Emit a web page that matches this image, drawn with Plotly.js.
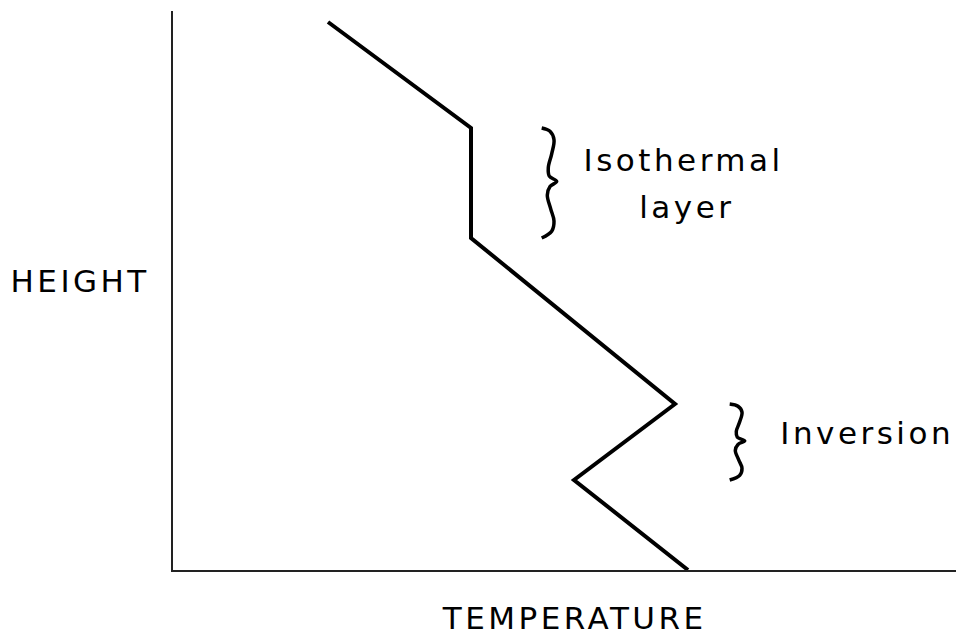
<!DOCTYPE html>
<html>
<head>
<meta charset="utf-8">
<script src="https://cdn.plot.ly/plotly-3.0.1.min.js"></script>
<style>
html,body{margin:0;padding:0;background:#fff;}
#chart{width:956px;height:636px;}
#chart .annotation-text{letter-spacing:3.5px;}
</style>
</head>
<body>
<div id="chart"></div>
<script>
// Temperature profile (arbitrary units)
const temperature = [155, 298, 298, 502, 401, 515];
const height      = [548, 442, 332, 166, 90, 0];

// Layers marked with braces
const layerNames   = ["Isothermal layer", "Inversion"];
const layerTop     = [442, 166];
const layerBottom  = [332, 90];
const braceX       = [375, 563];

// Brace profile: fraction down the brace, sideways offset
const braceT  = [0, 0.03, 0.106, 0.235, 0.36, 0.438, 0.485, 0.532, 0.61, 0.735, 0.845, 0.938, 1];
const braceDx = [-6.3, 2, 6, 3.7, 0.3, 1.3, 8.7, 2, -0.7, 2.7, 6, 3.7, -6.3];

const FONT = "'DejaVu Sans', sans-serif";
const tf = {family: FONT, color: '#000', size: 31};

const traces = [{
  x: temperature, y: height, mode: 'lines', type: 'scatter',
  line: {color: '#000', width: 4}, hoverinfo: 'skip', showlegend: false
}];

layerTop.forEach((top, i) => {
  const h = top - layerBottom[i];
  traces.push({
    x: braceDx.map(d => braceX[i] + d),
    y: braceT.map(t => top - t * h),
    mode: 'lines', type: 'scatter',
    line: {color: '#000', width: 3.5, shape: 'spline', smoothing: 1},
    hoverinfo: 'skip', showlegend: false
  });
});

const layout = {
  width: 956, height: 636,
  margin: {l: 173, r: 0, t: 11, b: 66},
  paper_bgcolor: '#fff', plot_bgcolor: '#fff',
  xaxis: {range: [0, 783], showline: true, linecolor: '#222', linewidth: 2,
          showgrid: false, zeroline: false, showticklabels: false, ticks: ''},
  yaxis: {range: [0, 559], showline: true, linecolor: '#222', linewidth: 2,
          showgrid: false, zeroline: false, showticklabels: false, ticks: ''},
  font: tf,
  annotations: [
    {x: 510, y: 410.5, xref: 'x', yref: 'y', text: 'Isothermal', font: tf, showarrow: false, xanchor: 'center', yanchor: 'middle'},
    {x: 514, y: 363.5, xref: 'x', yref: 'y', text: 'layer', font: tf, showarrow: false, xanchor: 'center', yanchor: 'middle'},
    {x: 694, y: 137.5, xref: 'x', yref: 'y', text: 'Inversion', font: tf, showarrow: false, xanchor: 'center', yanchor: 'middle'},
    {x: -0.118, y: 0.517, xref: 'paper', yref: 'paper', text: 'HEIGHT', font: tf, showarrow: false, xanchor: 'center', yanchor: 'middle'},
    {x: 0.5125, y: -0.0859, xref: 'paper', yref: 'paper', text: 'TEMPERATURE', font: tf, showarrow: false, xanchor: 'center', yanchor: 'middle'}
  ],
  showlegend: false
};

Plotly.newPlot('chart', traces, layout, {staticPlot: true, displayModeBar: false});
</script>
</body>
</html>
